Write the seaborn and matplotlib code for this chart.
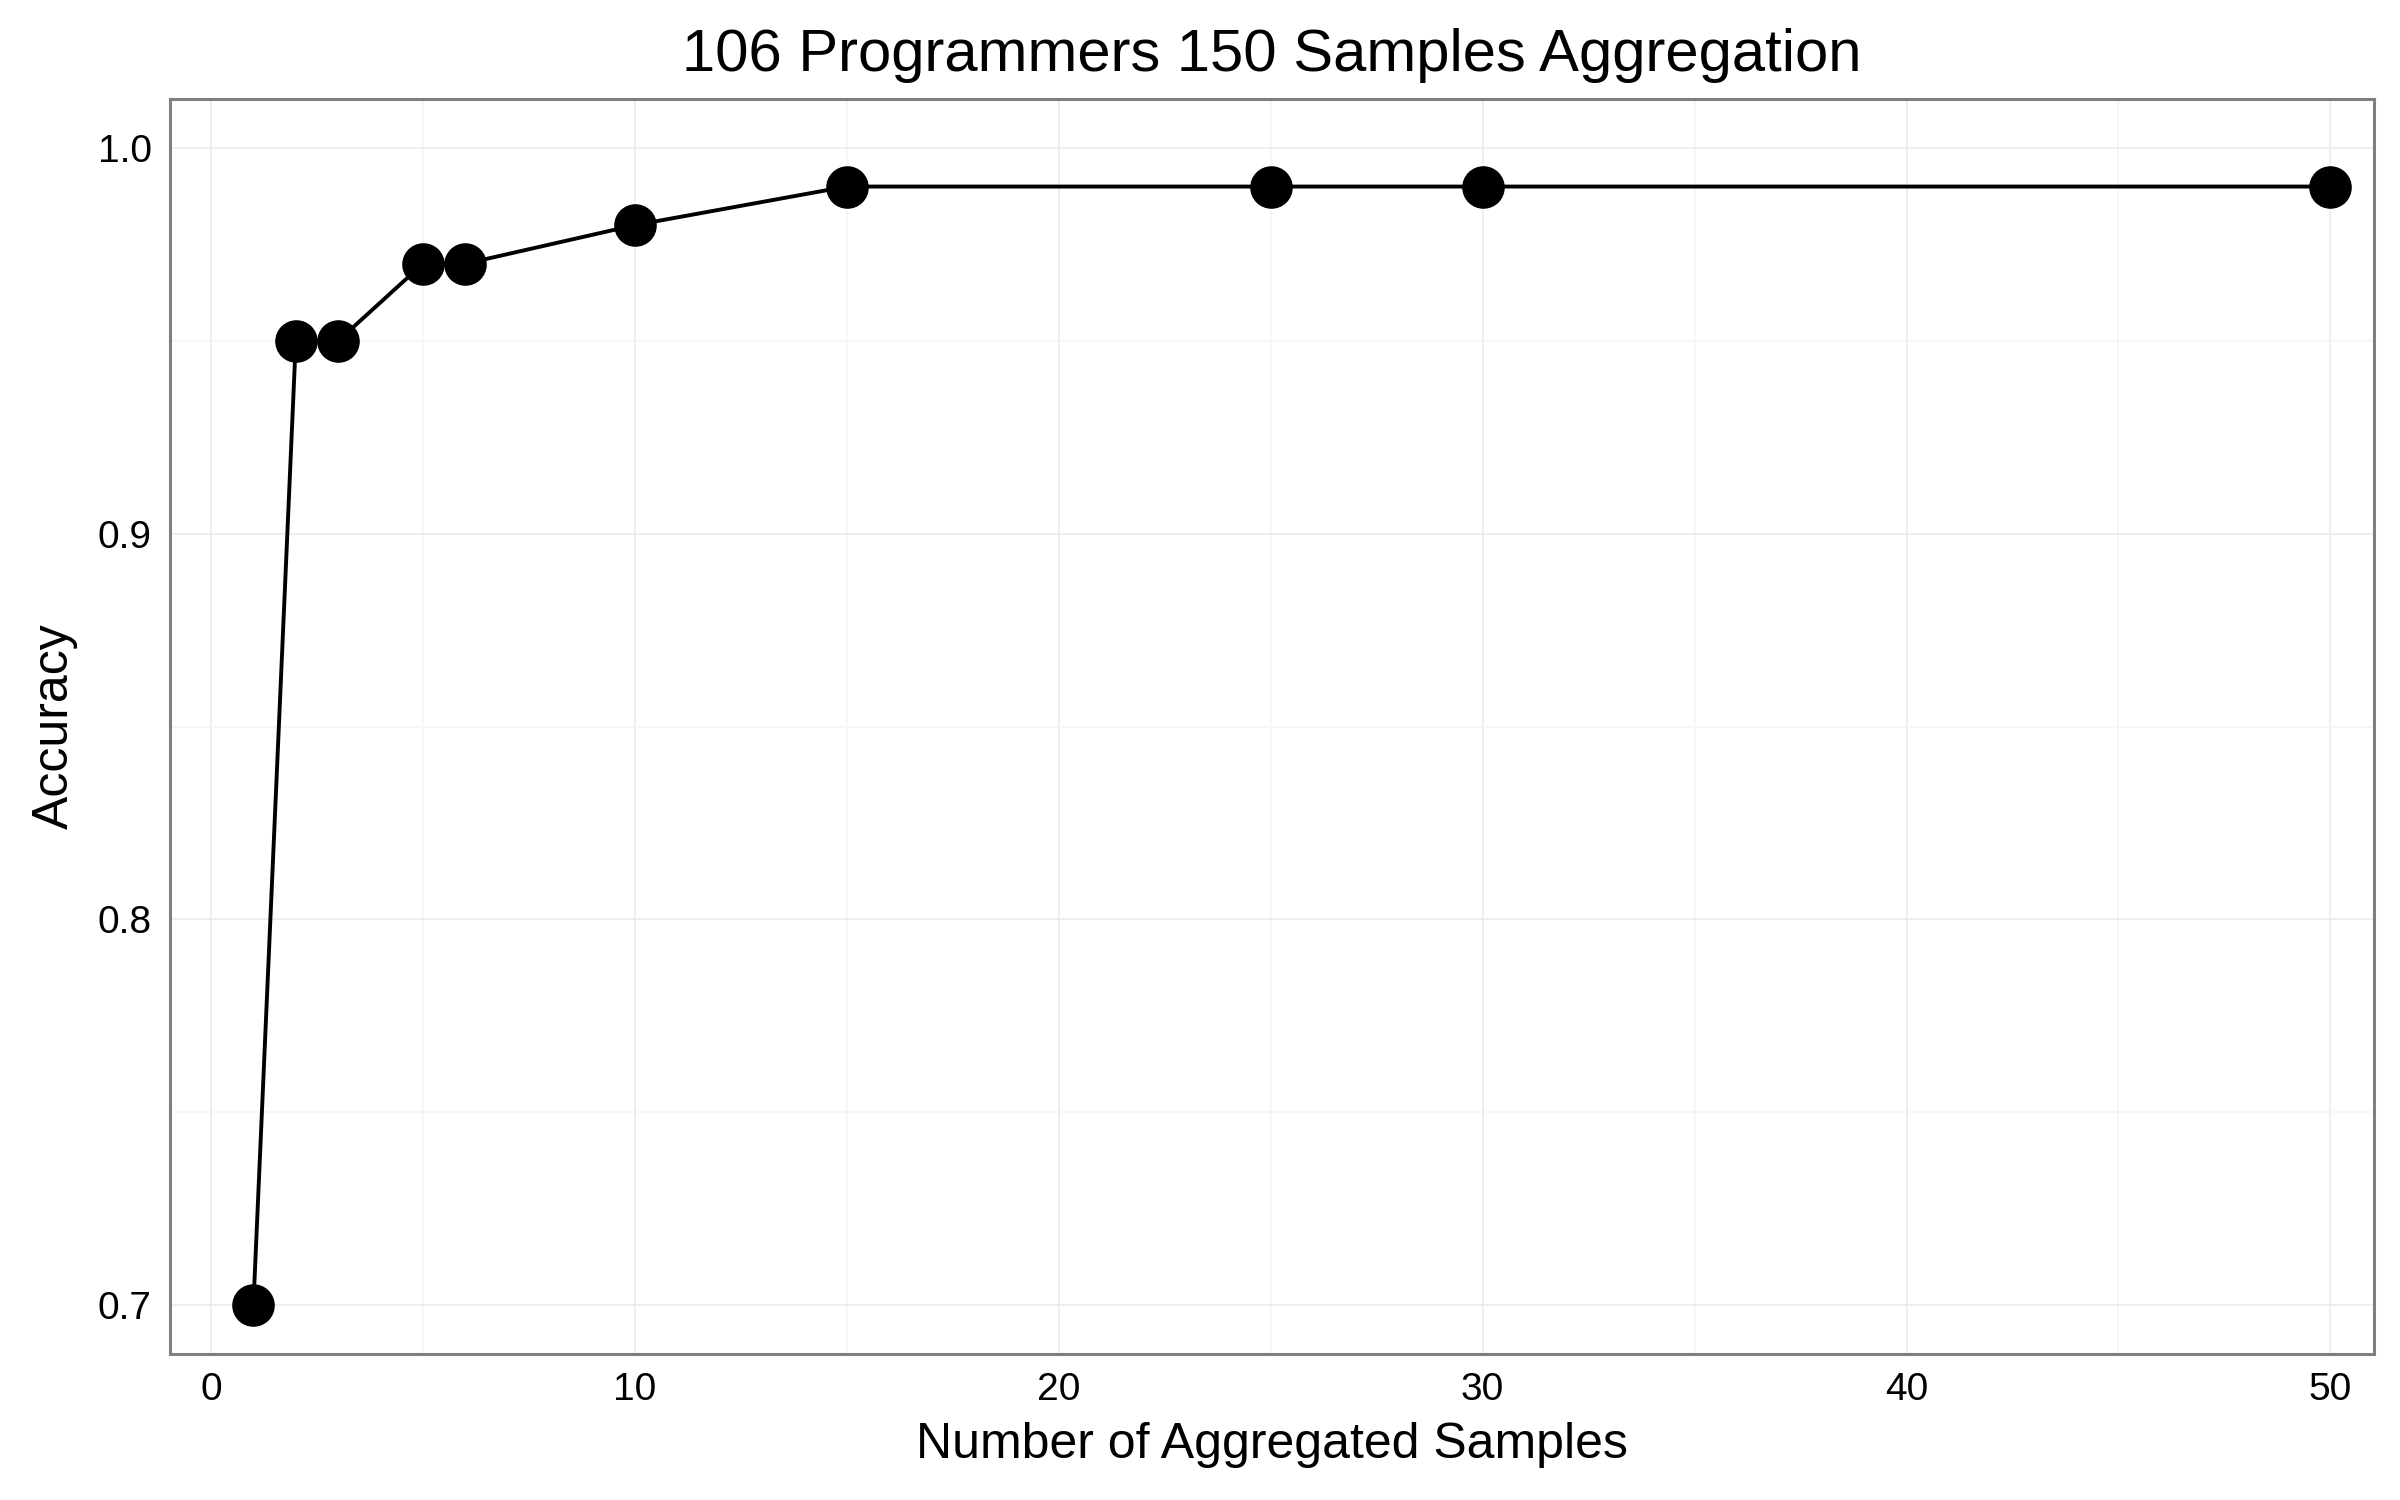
import numpy as np
import pandas as pd
import matplotlib.pyplot as plt
from matplotlib.ticker import MultipleLocator
import seaborn as sns

# Dane
n_samples = [1, 2, 3, 5, 6, 10, 15, 25, 30, 50]
accuracy = [0.70, 0.95, 0.95, 0.97, 0.97, 0.98, 0.99, 0.99, 0.99, 0.99]
x_ticks = [0, 10, 20, 30, 40, 50]
y_ticks = [0.7, 0.8, 0.9, 1.0]

df = pd.DataFrame({'samples': n_samples, 'accuracy': accuracy})

sns.set_style('white')
plt.rcParams['font.family'] = ['Liberation Sans', 'DejaVu Sans']
plt.rcParams['text.color'] = 'black'
plt.rcParams['axes.labelcolor'] = 'black'

fig = plt.figure(figsize=(12, 7.5), dpi=200)
ax = fig.add_axes([0.0708, 0.0973, 0.9184, 0.8367])

# Linia i punkty
sns.lineplot(data=df, x='samples', y='accuracy', color='black', linewidth=1.4, ax=ax, zorder=3)
sns.scatterplot(data=df, x='samples', y='accuracy', color='black', s=235, edgecolor='black',
                linewidth=0, ax=ax, zorder=4)

ax.set_xlim(-0.97, 51.03)
ax.set_ylim(0.6873, 1.0127)
ax.set_xticks(x_ticks)
ax.set_yticks(y_ticks)
ax.set_yticklabels([f'{v:.1f}' for v in y_ticks])
ax.xaxis.set_minor_locator(MultipleLocator(5))
ax.yaxis.set_minor_locator(MultipleLocator(0.05))

# Siatka w stylu theme_bw
ax.grid(True, which='major', color='#ebebeb', linewidth=0.6)
ax.grid(True, which='minor', color='#f5f5f5', linewidth=0.6)
ax.set_axisbelow(True)

for s in ax.spines.values():
    s.set_color('#7f7f7f')
    s.set_linewidth(1.1)

ax.tick_params(axis='both', which='major', length=3.5, width=1.1, color='black',
               labelsize=14, labelcolor='black', pad=3)
ax.tick_params(axis='both', which='minor', length=0)

ax.set_xlabel('Number of Aggregated Samples', fontsize=18, labelpad=5, color='black')
ax.set_ylabel('Accuracy', fontsize=18, labelpad=7, color='black')
ax.set_title('106 Programmers 150 Samples Aggregation', fontsize=21.5, pad=10, color='black')

plt.savefig('out.png', dpi=200)
plt.close()
